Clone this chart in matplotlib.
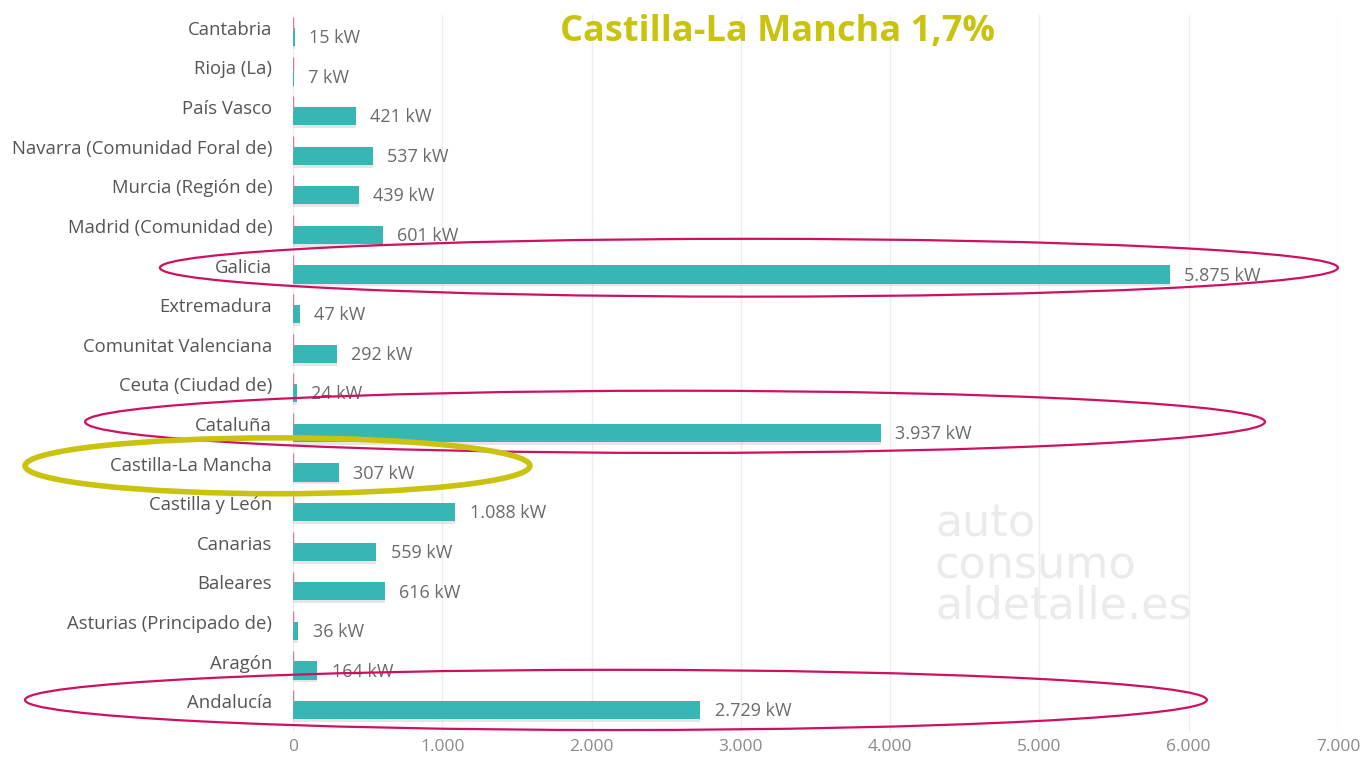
import matplotlib
matplotlib.use('Agg')
import matplotlib.pyplot as plt
from matplotlib.patches import Ellipse

plt.rcParams['font.family'] = ['Open Sans', 'DejaVu Sans']

# potencia instalada por comunidad (kW)
regions = ['Cantabria', 'Rioja (La)', 'País Vasco', 'Navarra (Comunidad Foral de)',
           'Murcia (Región de)', 'Madrid (Comunidad de)', 'Galicia', 'Extremadura',
           'Comunitat Valenciana', 'Ceuta (Ciudad de)', 'Cataluña', 'Castilla-La Mancha',
           'Castilla y León', 'Canarias', 'Baleares', 'Asturias (Principado de)',
           'Aragón', 'Andalucía']
power_kw = [15, 7, 421, 537, 439, 601, 5875, 47, 292, 24, 3937, 307,
            1088, 559, 616, 36, 164, 2729]
x_ticks = [0, 1000, 2000, 3000, 4000, 5000, 6000, 7000]

highlight_red = ['Galicia', 'Cataluña', 'Andalucía']
highlight_yellow = 'Castilla-La Mancha'
title = 'Castilla-La Mancha 1,7%'

BAR = '#38b6b4'
RED = '#cf0f60'
YEL = '#c9c20e'


def fmt(v):
    return f'{v:,}'.replace(',', '.')


fig = plt.figure(figsize=(13.64, 7.62), dpi=100)
ax = fig.add_axes([293 / 1364, 1 - 732 / 762, (1338 - 293) / 1364, (732 - 15) / 762])

pos = list(range(len(regions)))
# soft shadow under the bars
ax.barh([p + 0.07 for p in pos], power_kw, height=0.46, color='#c8c8c8', alpha=0.45, zorder=2)
ax.barh(pos, power_kw, height=0.46, color=BAR, zorder=3)
ax.vlines([0] * len(pos), [p - 0.5 for p in pos], [p - 0.15 for p in pos],
          color='#d97a90', lw=1, zorder=4)

for p, v in zip(pos, power_kw):
    ax.text(v + 95, p + 0.03, f'{fmt(v)} kW', va='center', ha='left',
            fontsize=13, color='#6a6a6a', zorder=5)

# category labels sit a bit above their bars
for p, name in zip(pos, regions):
    ax.annotate(name, xy=(0, p), xycoords=('axes fraction', 'data'),
                xytext=(-15, 5), textcoords='offset points', ha='right', va='center',
                fontsize=13.3, color='#555555')

ax.set_xlim(0, 7000)
ax.set_ylim(17.55, -0.55)
ax.set_xticks(x_ticks)
ax.set_xticklabels([fmt(t) for t in x_ticks], fontsize=12.5, color='#8a8a8a')
ax.set_yticks([])
ax.tick_params(axis='both', length=0)
ax.tick_params(axis='x', pad=5)
for s in ax.spines.values():
    s.set_visible(False)
ax.grid(axis='x', color='#ededed', lw=1, zorder=0)

# ellipses around highlighted rows
red_shapes = {'Galicia': (3054, -0.17, 7891, 1.46),
              'Cataluña': (2559, -0.28, 7903, 1.57),
              'Andalucía': (2163, -0.26, 7917, 1.52)}
for name in highlight_red:
    cx, dy, w, h = red_shapes[name]
    ax.add_patch(Ellipse((cx, regions.index(name) + dy), w, h, fill=False,
                         ec=RED, lw=1.6, clip_on=False, zorder=6))
ax.add_patch(Ellipse((-104, regions.index(highlight_yellow) - 0.17), 3382, 1.41,
                     fill=False, ec=YEL, lw=4, clip_on=False, zorder=6))

# watermark
fig.text(935 / 1364, 1 - 565 / 762, 'auto\nconsumo\naldetalle.es', fontsize=32,
         color='#ebebeb', ha='left', va='center', linespacing=0.95,
         family=['DejaVu Sans'], zorder=1)

fig.text(777 / 1364, 1 - 32 / 762, title, fontsize=26, fontweight='bold',
         color=YEL, ha='center', va='center')

fig.savefig('out.png', dpi=100)
